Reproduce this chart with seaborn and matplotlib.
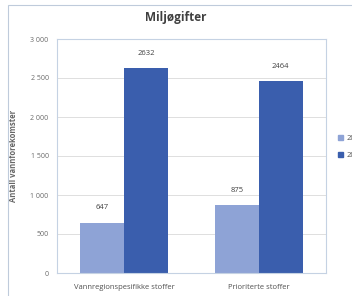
import matplotlib
matplotlib.use('Agg')
import matplotlib.pyplot as plt
import matplotlib.patches as mpatches
from matplotlib.ticker import FuncFormatter
import pandas as pd
import seaborn as sns

# Data
kategorier = ['Vannregionspesifikke stoffer', 'Prioriterte stoffer']
aar = ['2015', '2021']
verdier_forste = [647, 875]
verdier_andre = [2632, 2464]
farger = ['#8EA3D6', '#3A5EAD']

df = pd.DataFrame({
    'kategori': kategorier * 2,
    'aar': [aar[0]] * 2 + [aar[1]] * 2,
    'antall': verdier_forste + verdier_andre,
})

sns.set_theme(style='white')
plt.rcParams['font.family'] = ['Open Sans', 'DejaVu Sans']

fig = plt.figure(figsize=(3.52, 2.96), dpi=100)
fig.patch.set_facecolor('white')

# outer chart frame (cut off at the right edge in the reference)
frame = mpatches.Rectangle((8 / 352, -0.01), 1.0, 1 - 5 / 296 + 0.01,
                           transform=fig.transFigure, fill=False,
                           edgecolor='#BFCBDB', linewidth=0.8)
fig.add_artist(frame)

ax = fig.add_axes([57 / 352, 23 / 296, 269 / 352, 234 / 296])

sns.barplot(data=df, x='kategori', y='antall', hue='aar', order=kategorier,
            hue_order=aar, palette=farger, width=0.655, gap=0,
            saturation=1, linewidth=0, ax=ax, legend=False)

for cont in ax.containers:
    ax.bar_label(cont, fmt='%d', padding=8, fontsize=5.5, color='#404040')

ax.set_ylim(0, 3000)
ax.set_yticks(range(0, 3001, 500))
ax.yaxis.set_major_formatter(FuncFormatter(lambda v, p: f'{int(v):,}'.replace(',', ' ')))
ax.grid(axis='y', color='#D9D9D9', linewidth=0.6)
ax.set_axisbelow(True)
for s in ax.spines.values():
    s.set_color('#C5D2E3')
    s.set_linewidth(0.8)

ax.tick_params(axis='y', labelsize=5, colors='#6A6A6A', length=0, pad=6)
ax.tick_params(axis='x', labelsize=5.5, colors='#505050', length=0, pad=8)
ax.set_xlabel('')
ax.set_ylabel('Antall vannforekomster', fontsize=5.5, fontweight='bold',
              color='#666666', labelpad=9)

fig.text(176 / 352, 1 - 18 / 296, 'Miljøgifter', ha='center', va='center',
         fontsize=8.5, fontweight='bold', color='#404040')

handles = [mpatches.Patch(color=c, label=a) for c, a in zip(farger, aar)]
fig.legend(handles=handles, loc='center left',
           bbox_to_anchor=(331 / 352, 1 - 147 / 296), frameon=False,
           fontsize=5.5, handlelength=0.7, handleheight=0.7,
           handletextpad=0.4, labelspacing=1.2, labelcolor='#505050')

fig.savefig('out.png', dpi=100)
